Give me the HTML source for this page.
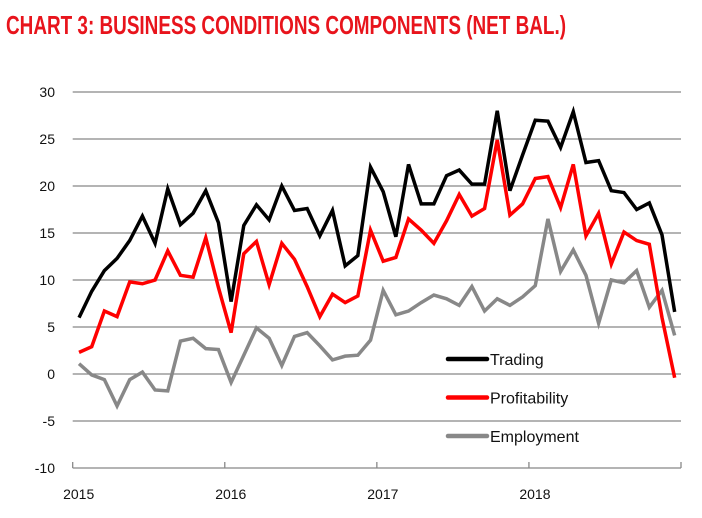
<!DOCTYPE html>
<html><head><meta charset="utf-8"><style>
body{margin:0;background:#fff;}
svg{display:block;font-family:"Liberation Sans",sans-serif;}
</style></head><body>
<svg id="chart" width="702" height="518" viewBox="0 0 702 518">
<text x="6" y="34" fill="#e8141c" font-size="26" font-weight="bold" textLength="560" lengthAdjust="spacingAndGlyphs" font-family="'Liberation Sans Narrow','Liberation Sans',sans-serif">CHART 3: BUSINESS  CONDITIONS COMPONENTS (NET BAL.)</text>
<g id="grid"></g><g id="axes"></g><g id="series"></g><g id="legend"></g>
</svg>
<script>
const years = ["2015","2016","2017","2018"];
const yTicks = [-10,-5,0,5,10,15,20,25,30];
const trading = [6,8.8,11,12.3,14.2,16.8,13.9,19.7,15.9,17.1,19.5,16.1,7.7,15.8,18,16.4,20,17.4,17.6,14.7,17.4,11.5,12.6,22,19.4,14.6,22.3,18.1,18.1,21.1,21.7,20.2,20.2,28,19.5,23.3,27,26.9,24.1,27.9,22.5,22.7,19.5,19.3,17.5,18.2,14.8,6.6];
const profitability = [2.3,2.9,6.7,6.1,9.8,9.6,10,13.1,10.5,10.3,14.5,9.2,4.4,12.8,14.1,9.5,13.9,12.2,9.3,6.1,8.5,7.6,8.3,15.3,12,12.4,16.5,15.3,13.9,16.3,19.1,16.8,17.6,24.9,16.9,18.1,20.8,21,17.7,22.3,14.7,17.1,11.7,15.1,14.2,13.8,6,-0.4];
const employment = [1.1,-0.1,-0.6,-3.4,-0.6,0.2,-1.7,-1.8,3.5,3.8,2.7,2.6,-0.9,2,4.9,3.8,0.9,4,4.4,3,1.5,1.9,2,3.6,8.9,6.3,6.7,7.6,8.4,8,7.3,9.3,6.7,8,7.3,8.2,9.4,16.5,10.9,13.2,10.5,5.4,10,9.7,11,7.1,8.9,4.1];
const seriesNames = ["Trading","Profitability","Employment"];

const NS="http://www.w3.org/2000/svg";
const x0=72.7, x1=681, y0=468, y1=92;
const nMonths=years.length*12;
const xMonth=i=>x0+(i+0.5)*(x1-x0)/nMonths;
const xYear=j=>x0+j*12*(x1-x0)/nMonths;
const yv=v=>y0-(v-(-10))*(y0-y1)/40;
function mk(tag,attrs,parent){const e=document.createElementNS(NS,tag);for(const k in attrs)e.setAttribute(k,attrs[k]);parent.appendChild(e);return e;}
const grid=document.getElementById('grid'),axes=document.getElementById('axes'),ser=document.getElementById('series'),leg=document.getElementById('legend');
yTicks.forEach(t=>{
  if(t!==-10){const l=mk('line',{x1:x0,x2:x1,y1:yv(t),y2:yv(t),stroke:'#888','stroke-width':1.3},grid);
  
  }
  const tx=mk('text',{x:55,y:yv(t)+5,'text-anchor':'end','font-size':14,fill:'#111'},axes);
  tx.textContent=t;
  
  
});
const ax=mk('line',{x1:x0,x2:x1,y1:y0,y2:y0,stroke:'#888','stroke-width':1.3},axes);


for(let j=0;j<=years.length;j++){
  const tk=mk('line',{x1:xYear(j),x2:xYear(j),y1:y0-6,y2:y0,stroke:'#888','stroke-width':1.3},axes);
  
  
  if(j<years.length){const tx=mk('text',{x:xYear(j)+6,y:y0+31,'text-anchor':'middle','font-size':14,fill:'#111'},axes);
  tx.textContent=years[j];
  
  }
}
const data=[employment,profitability,trading], colors=['#888888','#ff0000','#000000'], names=['employment-line','profitability-line','trading-line'];
data.forEach((d,k)=>{
  const p=mk('polyline',{points:d.map((v,i)=>xMonth(i)+','+yv(v)).join(' '),fill:'none',stroke:colors[k],'stroke-width':3.5,'stroke-linejoin':'miter'},ser);
  
  
});
const legColors=['#000000','#ff0000','#888888'];
seriesNames.forEach((n,k)=>{
  const y=359+k*38.5;
  const g=mk('g',{},leg);
  
  
  mk('line',{x1:448,x2:487,y1:y,y2:y,stroke:legColors[k],'stroke-width':4.5,'stroke-linecap':'round'},g);
  const t=mk('text',{x:490,y:y+6,'font-size':16,fill:'#111'},g);
  t.textContent=n;
});
</script>
</body></html>
